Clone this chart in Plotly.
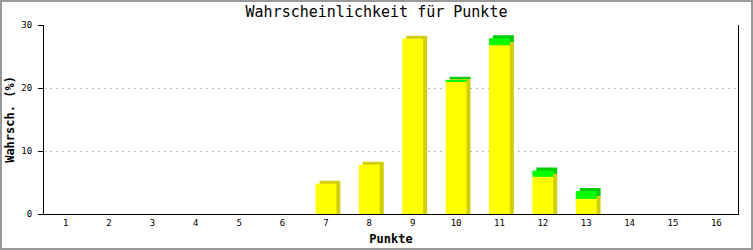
import plotly.graph_objects as go

punkte = list(range(1, 17))
gelb = [0, 0, 0, 0, 0, 0, 4.8, 7.8, 27.8, 21.0, 26.8, 5.9, 2.4, 0, 0, 0]
gruen = [0, 0, 0, 0, 0, 0, 0, 0, 0, 0.3, 1.1, 1.0, 1.25, 0, 0, 0]
y_ticks = [0, 10, 20, 30]

W, H = 753, 250
ML, MR, MT, MB = 44, 15, 25, 36
PW, PH = W - ML - MR, H - MT - MB

bar_w = 0.48
dx = 4 * 16 / PW          # side depth, in x units
dy = 3 * 30 / PH          # top depth, in y units

fig = go.Figure()
# shadows (3D side/top)
fig.add_trace(go.Bar(x=punkte, y=[v + dy if v > 0 else 0 for v in gelb], base=0,
                     offset=-bar_w / 2 + dx, width=bar_w, marker_color="#D0D000",
                     marker_line_width=0, hoverinfo="skip"))
fig.add_trace(go.Bar(x=punkte, y=[r if r > 0 else 0 for r in gruen],
                     base=[g + dy for g in gelb],
                     offset=-bar_w / 2 + dx, width=bar_w, marker_color="#00CC00",
                     marker_line_width=0, hoverinfo="skip"))
# fronts
fig.add_trace(go.Bar(x=punkte, y=gelb, base=0, offset=-bar_w / 2, width=bar_w,
                     marker_color="#FFFF00", marker_line_width=0, hoverinfo="skip"))
fig.add_trace(go.Bar(x=punkte, y=gruen, base=gelb, offset=-bar_w / 2, width=bar_w,
                     marker_color="#00FF00", marker_line_width=0, hoverinfo="skip"))

mono = "DejaVu Sans Mono"
fig.update_layout(
    width=W, height=H, barmode="overlay", showlegend=False,
    margin=dict(l=ML, r=MR, t=MT, b=MB, pad=0),
    paper_bgcolor="white", plot_bgcolor="white",
    title=dict(text="Wahrscheinlichkeit für Punkte", xref="container", x=0.5,
               xanchor="center", yref="container", y=1 - 12 / H, yanchor="middle",
               font=dict(family=mono, size=15, color="black")),
    xaxis=dict(range=[0.5, 16.5], tickvals=punkte, ticktext=[str(p) for p in punkte],
               automargin=False,
               showgrid=False, zeroline=False, showline=True, linecolor="black",
               linewidth=1, ticks="", tickfont=dict(family=mono, size=9, color="black"),
               title=dict(text="<b>Punkte</b>", standoff=7,
                          font=dict(family=mono, size=12, color="black"))),
    yaxis=dict(range=[0, 30], tickvals=y_ticks, showgrid=True, gridcolor="#BBBBBB",
               automargin=False,
               griddash="2px,4px", gridwidth=1, zeroline=False, showline=True,
               mirror=True, linecolor="black", linewidth=1, ticks="outside",
               ticklen=5, tickcolor="black", ticklabelstandoff=4,
               tickfont=dict(family=mono, size=9, color="black"),
               title=dict(text="<b>Wahrsch. (%)</b>", standoff=4,
                          font=dict(family=mono, size=12, color="black"))),
    shapes=[dict(type="rect", xref="paper", yref="paper",
                 x0=(-ML + 1) / PW, x1=1 + (MR - 1) / PW,
                 y0=(-MB + 1) / PH, y1=1 + (MT - 1) / PH,
                 line=dict(color="#999999", width=2), layer="above")],
)
fig.write_html("out.html")
